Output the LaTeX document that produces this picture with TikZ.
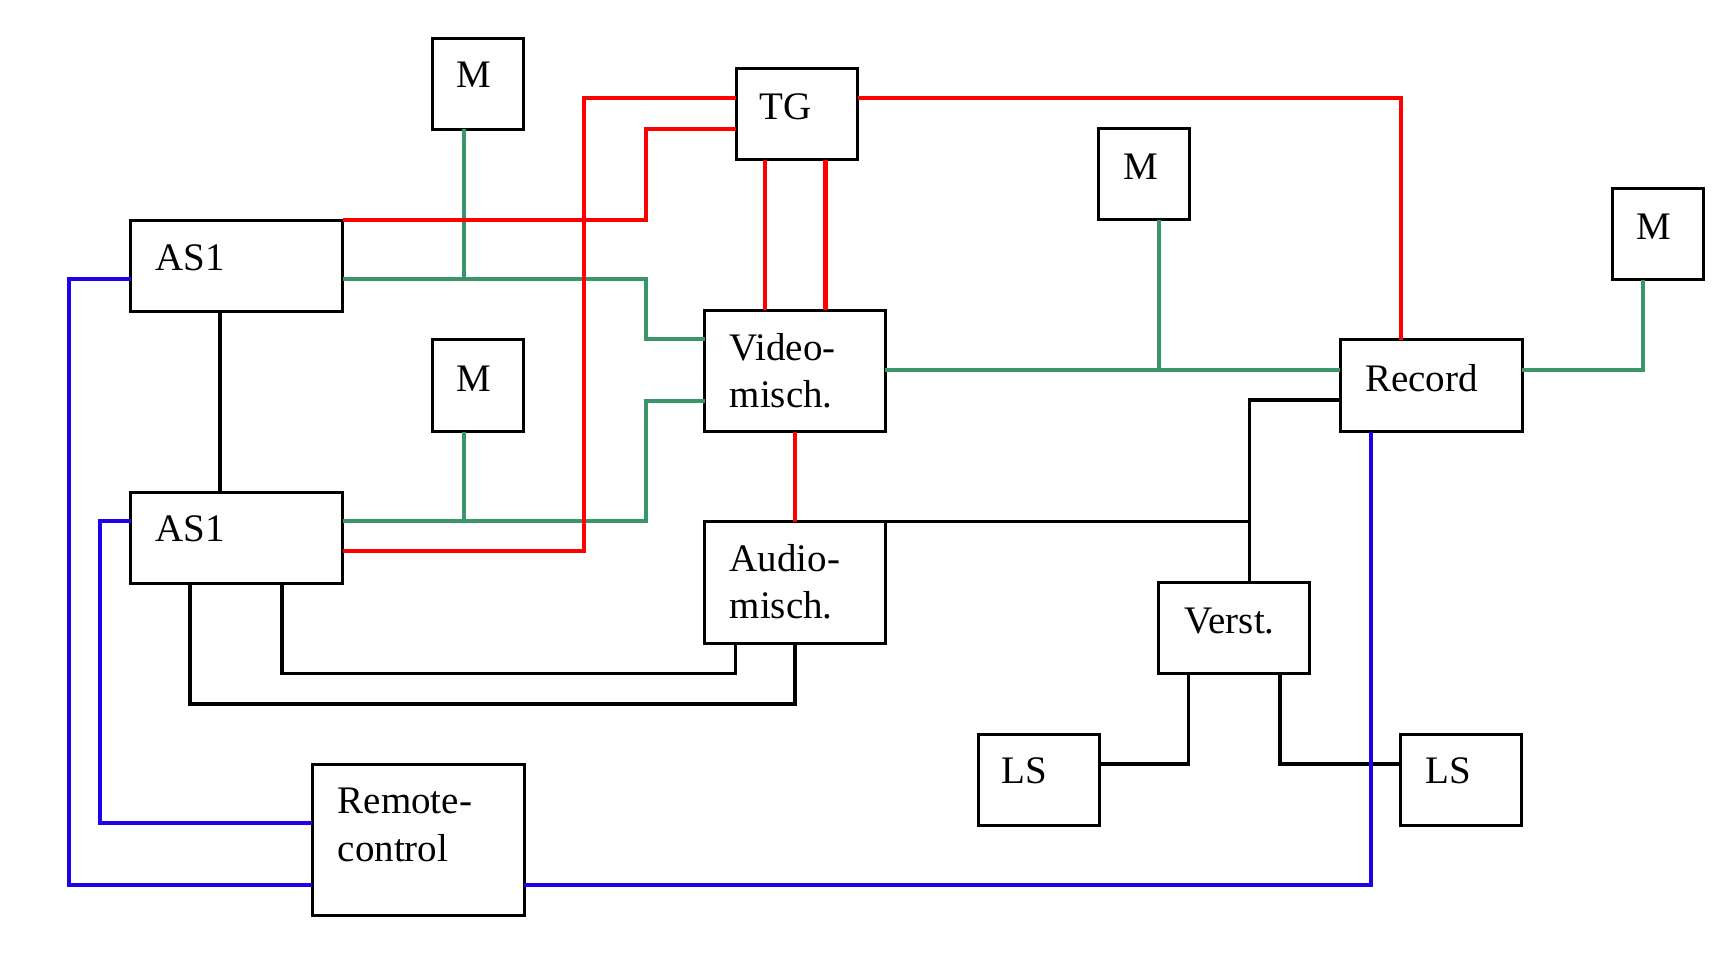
\documentclass[tikz,border=0pt]{standalone}
\usepackage{fontspec}
\setmainfont{Liberation Serif}
\definecolor{cgreen}{RGB}{58,150,104}
\definecolor{cblue}{RGB}{30,0,235}
\definecolor{cred}{RGB}{255,0,0}
\begin{document}
\begin{tikzpicture}[x=1pt,y=-1pt,
  box/.style={draw=black,line width=3pt,inner sep=0pt,outer sep=0pt,rectangle},
  txt/.style={anchor=base west,inner sep=0pt,font=\fontsize{39}{46}\selectfont},
  wblack/.style={draw=black,line width=3.4pt},
  wgreen/.style={draw=cgreen,line width=4pt},
  wred/.style={draw=cred,line width=4.2pt},
  wblue/.style={draw=cblue,line width=4pt}]
\useasboundingbox[fill=white] (0,0) rectangle (1730,974);
% boxes
\node[box,minimum width=91.3pt,minimum height=91pt] (M1) at (477.85,83.8) {};
\node[box,minimum width=121.1pt,minimum height=91.5pt] (TG) at (796.95,113.85) {};
\node[box,minimum width=91.4pt,minimum height=91.4pt] (M2) at (1143.8,173.9) {};
\node[box,minimum width=91pt,minimum height=91.4pt] (M3) at (1657.6,234) {};
\node[box,minimum width=211.8pt,minimum height=91.9pt] (AS1a) at (236.8,265.95) {};
\node[box,minimum width=91.5pt,minimum height=91.8pt] (M4) at (477.75,385.7) {};
\node[box,minimum width=180.2pt,minimum height=121.3pt] (Video) at (795,370.95) {};
\node[box,minimum width=182.4pt,minimum height=91.8pt] (Record) at (1431.2,385.7) {};
\node[box,minimum width=211.8pt,minimum height=91.1pt] (AS1b) at (236.8,538.05) {};
\node[box,minimum width=180.2pt,minimum height=122pt] (Audio) at (795,582.5) {};
\node[box,minimum width=151pt,minimum height=91.2pt] (Verst) at (1233.6,627.6) {};
\node[box,minimum width=120.7pt,minimum height=91.2pt] (LSl) at (1038.85,780) {};
\node[box,minimum width=121.2pt,minimum height=91.2pt] (LSr) at (1460.6,780) {};
\node[box,minimum width=211.9pt,minimum height=151.1pt] (Remote) at (418.15,839.65) {};
% texts
\node[txt] (tM1) at (456,88) {M};
\node[txt] (tTG) at (759,119.8) {TG};
\node[txt] (tM2) at (1123,179.8) {M};
\node[txt] (tM3) at (1636.5,239.9) {M};
\node[txt] (tAS1a) at (155,270.5) {AS1};
\node[txt] (tM4) at (456,391.1) {M};
\node[txt] (tVid1) at (729.5,360.9) {Video-};
\node[txt] (tVid2) at (729.5,407.5) {misch.};
\node[txt] (tRec) at (1365,391.1) {Record};
\node[txt] (tAS1b) at (155,541.5) {AS1};
\node[txt] (tAud1) at (729.5,571) {Audio-};
\node[txt] (tAud2) at (729.5,618.8) {misch.};
\node[txt] (tVer) at (1184.5,633.5) {Verst.};
\node[txt] (tLSl) at (1001.5,783.2) {LS};
\node[txt] (tLSr) at (1425,783.2) {LS};
\node[txt] (tRem1) at (337.5,813.6) {Remote-};
\node[txt] (tRem2) at (337.5,861) {control};
% coordinates
\coordinate (jA) at (1249.6,521.5);
\coordinate (jG1) at (463.8,279.3);
\coordinate (jG2) at (463.8,520.8);
\coordinate (jG3) at (1159.2,370.4);
% black
\draw[wblack] (AS1a.south -| 219.8,0) -- (AS1b.north -| 219.8,0);
\draw[wblack] (AS1b.south -| 281.8,0) |- (735.3,673.2) -- (Audio.south -| 735.3,0);
\draw[wblack] (AS1b.south -| 190,0) |- (795,704) -- (Audio.south);
\draw[wblack] (Audio.north east) -- (jA);
\draw[wblack] (Record.west |- 0,399.9) -| (jA) -- (Verst.north -| jA);
\draw[wblack] (Verst.south -| 1188.4,0) |- (LSl.east |- 0,763.8);
\draw[wblack] (Verst.south -| 1279.9,0) |- (LSr.west |- 0,763.8);
% green
\draw[wgreen] (M1.south -| jG1) -- (jG1);
\draw[wgreen] (AS1a.east |- jG1) -- (jG1) -| (645.7,339.4) -- (Video.west |- 0,339.4);
\draw[wgreen] (M4.south -| jG2) -- (jG2);
\draw[wgreen] (AS1b.east |- jG2) -- (jG2) -| (645.7,401.4) -- (Video.west |- 0,401.4);
\draw[wgreen] (Video.east |- jG3) -- (jG3) -- (Record.west |- jG3);
\draw[wgreen] (M2.south -| jG3) -- (jG3);
\draw[wgreen] (Record.east |- jG3) -| (M3.south -| 1643,0);
% red
\draw[wred] (AS1b.east |- 0,551) -| (583.7,97.6) -- (TG.west |- 0,97.6);
\draw[wred] (AS1a.north east) -| (645.7,129.3) -- (TG.west |- 0,129.3);
\draw[wred] (TG.south -| 765.1,0) -- (Video.north -| 765.1,0);
\draw[wred] (TG.south -| 825.4,0) -- (Video.north -| 825.4,0);
\draw[wred] (TG.east |- 0,97.6) -| (Record.north -| 1400.6,0);
\draw[wred] (Video.south) -- (Audio.north);
% blue
\draw[wblue] (AS1a.west |- jG1) -| (68.9,885.1) -- (Remote.west |- 0,885.1);
\draw[wblue] (Remote.east |- 0,885.1) -| (Record.south -| 1371.4,0);
\draw[wblue] (AS1b.west |- jG2) -| (100.4,823.3) -- (Remote.west |- 0,823.3);
\end{tikzpicture}
\end{document}
